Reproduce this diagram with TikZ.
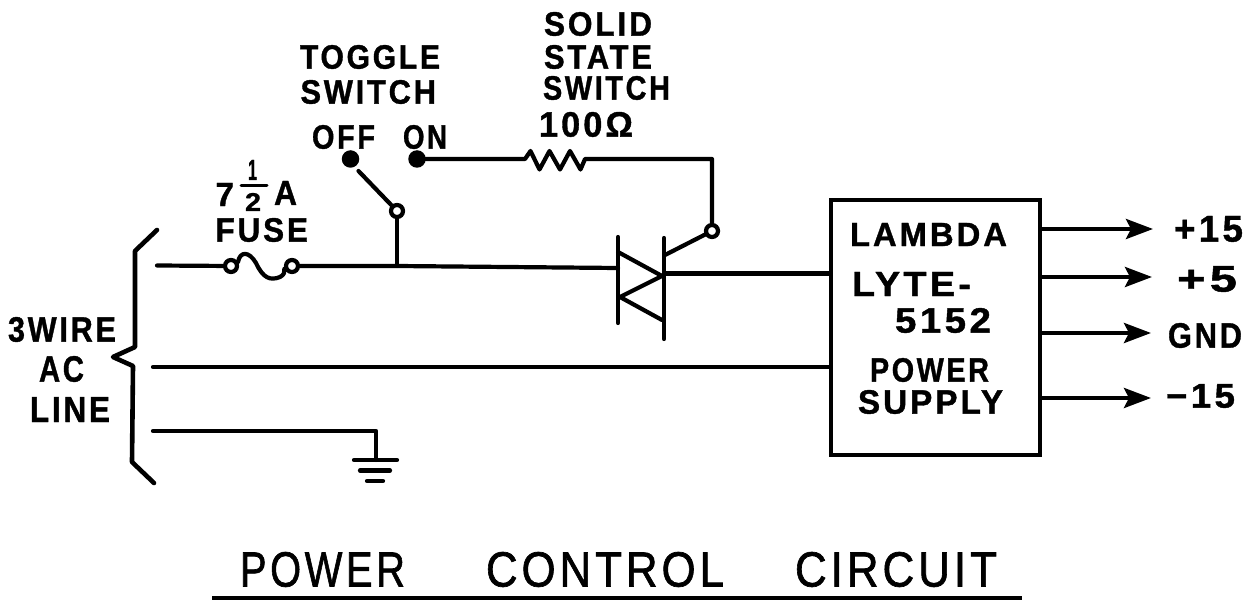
\documentclass[tikz,border=0pt]{standalone}
\usepackage{fontspec}
\usepackage{graphicx}
\setmainfont{Liberation Sans}
\newfontfamily\lblfont[LetterSpace=9,BoldFont={Liberation Sans Bold},FakeBold=1.1]{Liberation Sans Bold}
\newfontfamily\ttlfont[LetterSpace=9,FakeBold=1.4]{Liberation Sans}
\usetikzlibrary{arrows.meta}
\tikzset{
  wire/.style={line width=4.2pt,line join=round,line cap=round},
  terminal/.style={circle,draw,fill=white,line width=4.2pt,minimum size=12pt,inner sep=0pt},
  contact/.style={circle,fill=black,minimum size=17.5pt,inner sep=0pt},
  outarrow/.style={wire,-{Stealth[length=27pt,width=20pt,inset=5pt]}},
  psbox/.style={draw,line width=4.4pt,inner sep=0pt,minimum width=209pt,minimum height=255pt},
  lab/.style={inner sep=0pt,outer sep=0pt}
}
% name, x0, x1, y0, y1, text : fits the text into the box measured on the reference
\newcommand\lbl[6]{\node[lab] (#1) at ({(#2+#3)/2},{(#4+#5)/2})
  {\resizebox*{\dimexpr#3pt-#2pt\relax}{\dimexpr#5pt-#4pt\relax}{\lblfont #6}};}
\newcommand\ttl[6]{\node[lab] (#1) at ({(#2+#3)/2},{(#4+#5)/2})
  {\resizebox*{\dimexpr#3pt-#2pt\relax}{\dimexpr#5pt-#4pt\relax}{\ttlfont #6}};}
\begin{document}
\begin{tikzpicture}[x=1pt,y=-1pt]
\useasboundingbox (0,0) rectangle (1252,601);
% labels
\lbl{solid}{544}{652}{12}{36}{SOLID}
\lbl{state}{544}{652}{45}{69}{STATE}
\lbl{sswitch}{543}{670}{76}{100}{SWITCH}
\lbl{ohm}{539}{633}{112}{137}{100Ω}
\lbl{toggle}{300}{440}{45}{69}{TOGGLE}
\lbl{tswitch}{300.5}{436}{80}{104}{SWITCH}
\lbl{off}{312}{375}{125}{149}{OFF}
\lbl{onlab}{403}{447}{125}{149}{ON}
\lbl{seven}{215.5}{234}{183}{206}{7}
\lbl{one}{248}{257}{160}{180}{1}
\lbl{two}{245}{261}{193}{211}{2}
\lbl{amp}{274}{297}{181}{205}{A}
\lbl{fuselab}{215.5}{308}{218}{242}{FUSE}
\lbl{threewire}{8}{116}{317}{342}{3WIRE}
\lbl{ac}{39}{84}{356}{382}{AC}
\lbl{line}{30}{110}{397}{422}{LINE}
% power supply
\node[psbox] (ps) at (935.5,327.5) {};
\lbl{lambda}{850}{1007}{223}{246}{LAMBDA}
\lbl{lyte}{852}{971}{272}{296}{LYTE-}
\lbl{num}{895}{991}{308}{333}{5152}
\lbl{power}{870}{989}{358}{382}{POWER}
\lbl{supply}{858}{1003}{390}{414}{SUPPLY}
\lbl{pf}{1174}{1243}{216}{242}{+15}
\lbl{pv}{1177}{1237}{266}{292}{+5}
\lbl{gnd}{1168}{1242}{323}{348}{GND}
\lbl{mf}{1166}{1235}{384}{408}{−15}
\ttl{tpower}{240}{405}{552}{587}{POWER}
\ttl{tcontrol}{486}{724}{552}{587}{CONTROL}
\ttl{tcircuit}{795}{997}{552}{587}{CIRCUIT}
% rule under the title
\coordinate (ruleL) at (212,598);
\coordinate (ruleR) at (1022,598);
\draw[line width=4.5pt] (ruleL) -- (ruleR);
% fraction bar
\coordinate (fracL) at (241,185.5);
\coordinate (fracR) at (267,185.5);
\draw[line width=3pt,line cap=round] (fracL) -- (fracR);
% brace
\coordinate (b1) at (157,230);
\coordinate (b2) at (135,251);
\coordinate (b3) at (135,347);
\coordinate (b4) at (113,357);
\coordinate (b5) at (133,366);
\coordinate (b6) at (132,462);
\coordinate (b7) at (154,483);
\draw[wire,line width=4.6pt] (b1) -- (b2) -- (b3) -- (b4) -- (b5) -- (b6) -- (b7);
% AC wires
\coordinate (w1) at (157,265.5);
\coordinate (w2) at (153,367);
\coordinate (w3) at (153,431);
\coordinate (gt) at (376,431);
\coordinate (gb) at (376,460);
\coordinate (g1l) at (354,460);
\coordinate (g1r) at (397,460);
\coordinate (g2l) at (360,470.5);
\coordinate (g2r) at (390,470.5);
\coordinate (g3l) at (367,481);
\coordinate (g3r) at (383,481);
\draw[wire] (w3) -- (gt) -- (gb);
\draw[wire] (g1l) -- (g1r);
\draw[wire] (g2l) -- (g2r);
\draw[wire] (g3l) -- (g3r);
\draw[wire] (w2) -- (ps.west |- w2);
% fuse
\node[terminal] (fa) at (231,266) {};
\node[terminal] (fb) at (292,266) {};
\draw[wire] (fa.30) .. controls (240,251) and (249,251) .. (256,263)
  .. controls (263,278) and (270,281) .. (280,277) .. controls (284,275) and (285,272) .. (fb.200);
\draw[wire] (w1) -- (fa);
% junction and switch
\coordinate (jn) at (397,266);
\node[terminal] (sw) at (397,211) {};
\node[contact] (offd) at (350.5,159) {};
\node[contact] (ond) at (417,159) {};
\coordinate (arm) at (358.5,171);
\draw[wire] (arm) -- (sw);
\draw[wire] (jn) -- (sw);
% triac
\coordinate (la) at (618,237);
\coordinate (lb) at (618,323);
\coordinate (ra) at (664,238);
\coordinate (rb) at (664,339);
\coordinate (lin) at (618,268);
\coordinate (rin) at (664,273.5);
\coordinate (t1) at (618,252);
\coordinate (t2) at (662,276);
\coordinate (t3) at (620,297);
\coordinate (t4) at (662,320);
\draw[wire] (fb) -- (jn) -- (lin);
\draw[wire] (la) -- (lb);
\draw[wire] (ra) -- (rb);
\draw[wire] (t1) -- (t2) -- (t3) -- (t4);
\draw[wire] (rin) -- (ps.west |- rin);
% gate and resistor
\node[terminal] (gate) at (712,231) {};
\coordinate (gs) at (665,255);
\draw[wire] (gs) -- (gate);
\coordinate (corner) at (712,159);
\draw[wire] (ond) -- (525,159) -- (530.5,151) -- (539.5,169.5) -- (549.5,151) -- (560,169.5)
  -- (570,151) -- (580.5,169.5) -- (585,159) -- (corner) -- (gate);
% outputs
\coordinate (o1) at (1153,229);
\coordinate (o2) at (1152,277);
\coordinate (o3) at (1151,333);
\coordinate (o4) at (1151,398);
\draw[outarrow] (ps.east |- o1) -- (o1);
\draw[outarrow] (ps.east |- o2) -- (o2);
\draw[outarrow] (ps.east |- o3) -- (o3);
\draw[outarrow] (ps.east |- o4) -- (o4);
\end{tikzpicture}
\end{document}
